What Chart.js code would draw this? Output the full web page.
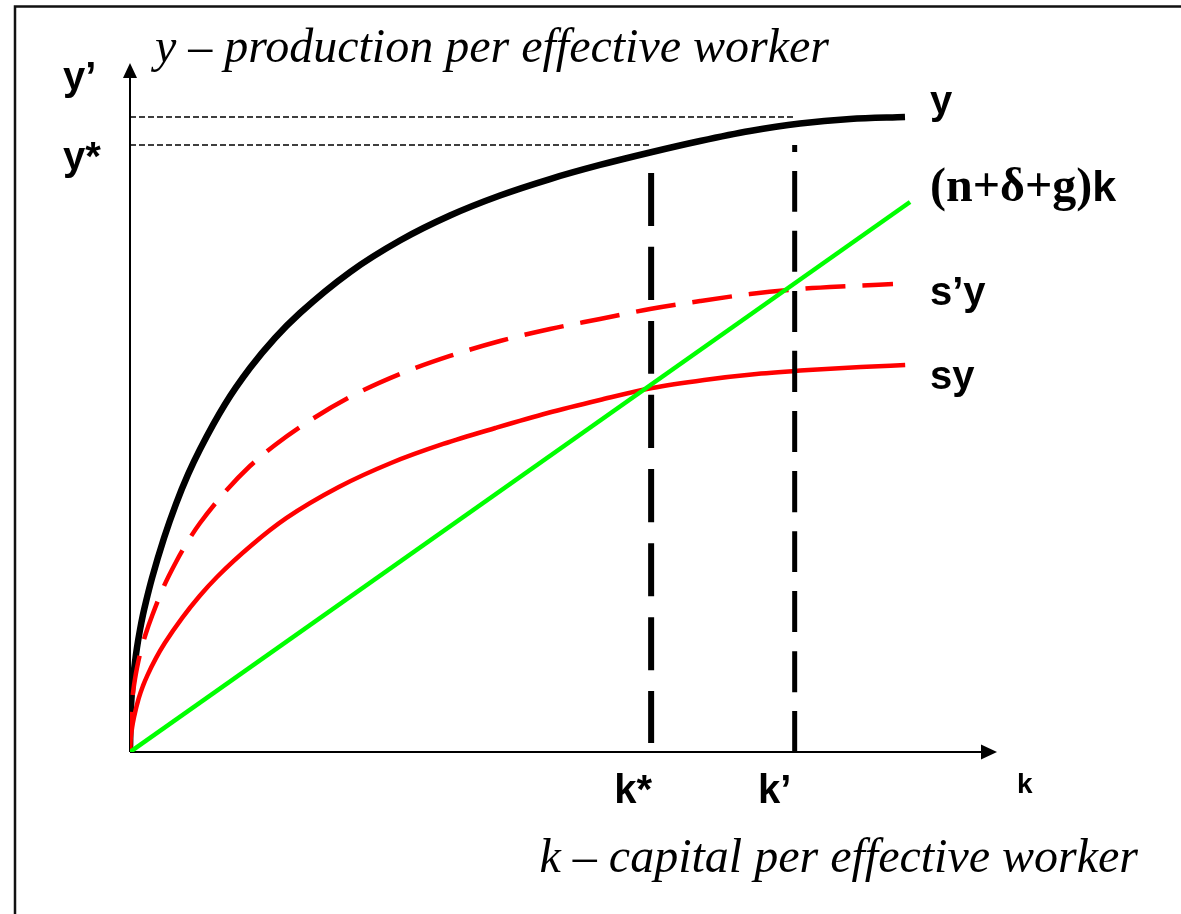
<!DOCTYPE html>
<html>
<head>
<meta charset="utf-8">
<script src="https://cdn.jsdelivr.net/npm/chart.js@4"></script>
<style>
  body { margin: 0; background: #fff; }
  canvas { display: block; }
</style>
</head>
<body>
<canvas id="my-chart" width="1181" height="914"></canvas>
<script>
const kValues = [0, 0.057, 0.115, 0.23, 0.4, 0.575, 0.8, 1.15, 1.49, 1.84, 2.53, 3.91, 5.29, 6.67, 8.05, 10.92, 13.79, 16.67, 19.54, 25.29, 31.03, 36.78, 42.53, 48.28, 54.02, 59.77, 65.52, 71.26, 77.01, 82.76, 89.08];
const kValuesHigh = [0, 0.057, 0.115, 0.23, 0.4, 0.575, 0.8, 1.15, 1.49, 1.84, 2.53, 3.91, 5.29, 6.67, 8.05, 10.92, 13.79, 16.67, 19.54, 25.29, 31.03, 36.78, 42.53, 48.28, 54.02, 59.77, 65.52, 71.26, 77.01, 82.76, 87.7];
const kValuesLow = [0, 0.057, 0.115, 0.25, 0.46, 1, 1.49, 2, 3, 4, 6, 8, 10, 14, 18, 24, 30, 36, 42, 48, 54, 60, 66, 72, 78, 84, 89.1];

const yValues = [0, 5.06, 6.65, 8.82, 11.13, 12.98, 15.06, 17.66, 19.83, 21.73, 25.12, 30.92, 35.87, 40.12, 43.76, 50.26, 55.49, 59.83, 63.44, 69.36, 73.92, 77.53, 80.42, 82.8, 84.83, 86.63, 88.29, 89.74, 90.82, 91.47, 91.76];
const syHighValues = [0, 4.19, 5.49, 7.23, 9.1, 10.55, 12.14, 14.16, 15.75, 17.2, 19.65, 23.99, 27.46, 30.49, 33.09, 37.57, 41.33, 44.36, 46.97, 51.3, 54.62, 57.23, 59.39, 61.13, 62.57, 64.02, 65.17, 66.18, 66.91, 67.34, 67.63];
const syValues = [0, 1.58, 2.3, 3.6, 5.03, 7.75, 9.55, 11.08, 13.6, 15.74, 19.38, 22.54, 25.29, 29.91, 33.82, 38.29, 41.76, 44.51, 46.82, 48.99, 50.87, 52.6, 53.76, 54.62, 55.2, 55.64, 55.92];
const breakEvenK = [0, 89.66];
const breakEvenValues = [0, 79.48];

const kStar = 59.9;
const kPrime = 76.4;
const kStarTop = 83.67;
const yStar = 87.72;
const yPrime = 91.76;

const kTickLabels = ['k*', 'k’'];
const yTickLabels = ['y’', 'y*'];
const curveLabels = ['y', '(n+δ+g)', 'k', 's’y', 'sy'];
const yTitle = 'y – production per effective worker';
const kTitle = 'k – capital per effective worker';

const toPoints = (xs, ys) => xs.map((x, i) => ({ x: x, y: ys[i] }));

const sans = '"Liberation Sans", Arial, sans-serif';
const serif = '"Liberation Serif", "Times New Roman", serif';

// frame, axes with arrows, then all text
const decorations = {
  id: 'decorations',
  beforeDatasetsDraw(chart) {
    const ctx = chart.ctx;
    const x0 = chart.scales.x.getPixelForValue(0);
    const y0 = chart.scales.y.getPixelForValue(0);
    ctx.save();
    ctx.strokeStyle = '#000';
    ctx.fillStyle = '#000';
    ctx.lineWidth = 2;
    ctx.beginPath();
    ctx.moveTo(x0, y0);
    ctx.lineTo(x0, 76);
    ctx.moveTo(x0, y0);
    ctx.lineTo(983, y0);
    ctx.stroke();
    // arrow heads
    ctx.beginPath();
    ctx.moveTo(x0, 63);
    ctx.lineTo(x0 - 7, 78);
    ctx.lineTo(x0 + 7, 78);
    ctx.closePath();
    ctx.fill();
    ctx.beginPath();
    ctx.moveTo(997, y0);
    ctx.lineTo(981, y0 - 7.5);
    ctx.lineTo(981, y0 + 7.5);
    ctx.closePath();
    ctx.fill();
    ctx.restore();
  },
  afterDraw(chart) {
    const ctx = chart.ctx;
    const xs = chart.scales.x;
    ctx.save();
    // outer frame (top and left edges)
    ctx.strokeStyle = '#111';
    ctx.lineWidth = 2.5;
    ctx.beginPath();
    ctx.moveTo(15, 914);
    ctx.lineTo(15, 6.5);
    ctx.lineTo(1181, 6.5);
    ctx.stroke();

    ctx.fillStyle = '#000';
    ctx.textBaseline = 'alphabetic';

    ctx.font = 'italic 48px ' + serif;
    ctx.textAlign = 'left';
    ctx.fillText(yTitle, 155, 62);
    ctx.textAlign = 'right';
    ctx.fillText(kTitle, 1138, 872);

    ctx.font = 'bold 40px ' + sans;
    ctx.textAlign = 'left';
    ctx.fillText(yTickLabels[0], 63, 90);
    ctx.fillText(yTickLabels[1], 63, 170);

    ctx.textAlign = 'center';
    ctx.fillText(kTickLabels[0], xs.getPixelForValue(kStar) - 18, 803);
    ctx.fillText(kTickLabels[1], xs.getPixelForValue(kPrime) - 20, 803);

    ctx.textAlign = 'left';
    ctx.fillText(curveLabels[0], 930, 114);
    ctx.fillText(curveLabels[3], 930, 305);
    ctx.fillText(curveLabels[4], 930, 389);

    ctx.font = 'bold 48px ' + serif;
    ctx.fillText(curveLabels[1], 930, 201);
    const w = ctx.measureText(curveLabels[1]).width;
    ctx.font = 'bold 43px ' + sans;
    ctx.fillText(curveLabels[2], 930 + w, 201);

    ctx.font = 'bold 28px ' + sans;
    ctx.fillText('k', 1017, 793);
    ctx.restore();
  }
};

const ctx = document.getElementById('my-chart').getContext('2d');
const chart = new Chart(ctx, {
  type: 'scatter',
  data: {
    datasets: [
      {
        label: '(n+δ+g)k',
        data: toPoints(breakEvenK, breakEvenValues),
        borderColor: '#00ff00',
        borderWidth: 4.5
      },
      {
        label: 'k*',
        data: [{ x: kStar, y: kStarTop }, { x: kStar, y: 1.3 }],
        borderColor: '#000',
        borderWidth: 6,
        borderDash: [53, 21]
      },
      {
        label: 'k’',
        data: [{ x: kPrime, y: 0 }, { x: kPrime, y: yStar }],
        borderColor: '#000',
        borderWidth: 5,
        borderDash: [41, 19]
      },
      {
        label: 's’y',
        data: toPoints(kValuesHigh, syHighValues),
        borderColor: '#ff0000',
        borderWidth: 4.5,
        borderDash: [40, 17]
      },
      {
        label: 'sy',
        data: toPoints(kValuesLow, syValues),
        borderColor: '#ff0000',
        borderWidth: 4.5
      },
      {
        label: 'y',
        data: toPoints(kValues, yValues),
        borderColor: '#000',
        borderWidth: 6.5
      },
      {
        label: 'y*',
        data: [{ x: 0, y: yStar }, { x: kStar, y: yStar }],
        borderColor: '#000',
        borderWidth: 1.5,
        borderDash: [6, 3]
      },
      {
        label: 'y’',
        data: [{ x: 0, y: yPrime }, { x: kPrime, y: yPrime }],
        borderColor: '#000',
        borderWidth: 1.5,
        borderDash: [6, 3]
      }
    ]
  },
  options: {
    responsive: false,
    animation: false,
    showLine: true,
    layout: { padding: { left: 130, right: 181, top: 60, bottom: 162 } },
    elements: {
      point: { radius: 0, hoverRadius: 0 },
      line: { cubicInterpolationMode: 'monotone', fill: false, borderCapStyle: 'butt' }
    },
    scales: {
      x: { type: 'linear', min: 0, max: 100, display: false },
      y: { type: 'linear', min: 0, max: 100, display: false }
    },
    plugins: {
      legend: { display: false },
      tooltip: { enabled: false }
    }
  },
  plugins: [decorations]
});
</script>
</body>
</html>
